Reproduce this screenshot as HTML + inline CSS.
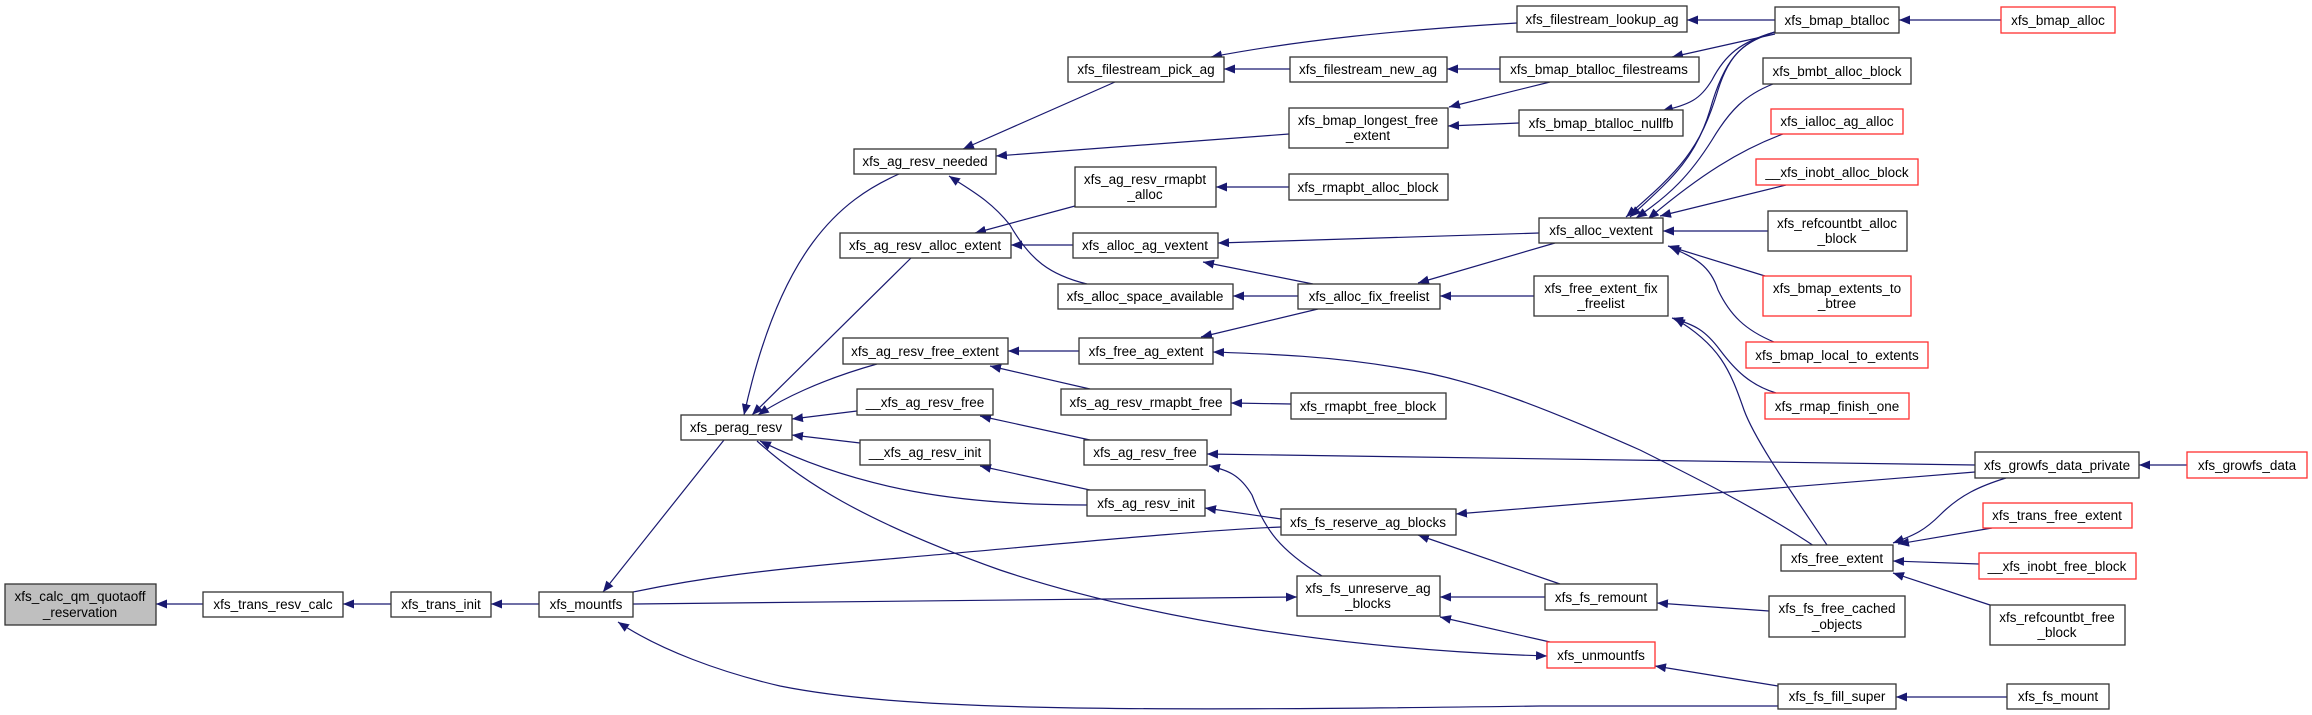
<!DOCTYPE html>
<html><head><meta charset="utf-8"><style>
html,body{margin:0;padding:0;background:#fff;}
svg{display:block;}
text{font-family:"Liberation Sans",sans-serif;font-size:13.5px;fill:#000;text-anchor:middle;}
.n{fill:#fff;stroke:#333;stroke-width:1.3;}
.r{fill:#fff;stroke:#ff3030;stroke-width:1.3;}
.g{fill:#bfbfbf;stroke:#333;stroke-width:1.3;}
path.e{fill:none;stroke:#191970;stroke-width:1.2;}
</style></head><body>
<svg width="2312" height="715" viewBox="0 0 2312 715" xmlns="http://www.w3.org/2000/svg">
<defs><marker id="a" markerUnits="userSpaceOnUse" markerWidth="12" markerHeight="9" refX="11" refY="4.5" orient="auto"><path d="M0,0 L11,4.5 L0,9 z" fill="#191970"/></marker></defs>
<g marker-end="url(#a)">
<path class="e" d="M203,604 L156,604"/>
<path class="e" d="M391,604 L343,604"/>
<path class="e" d="M539,604 L491,604"/>
<path class="e" d="M724,440 L603,592"/>
<path class="e" d="M899,174 C840,200 780,250 744,415"/>
<path class="e" d="M911,258 L752,415"/>
<path class="e" d="M877,364 C820,380 780,400 758,415"/>
<path class="e" d="M857,411 L792,419"/>
<path class="e" d="M860,443 L792,435"/>
<path class="e" d="M1087,505 C960,505 860,490 760,441"/>
<path class="e" d="M757,441 C800,480 860,520 1000,570 C1150,620 1350,650 1547,656"/>
<path class="e" d="M633,604 L1297,597"/>
<path class="e" d="M1778,706 L1540,706 C1100,712 900,710 780,686 C720,672 660,650 618,622"/>
<path class="e" d="M1115,82 L963,149"/>
<path class="e" d="M1289,134 L996,156"/>
<path class="e" d="M1087,284 C1050,275 1030,260 1010,225 C990,200 970,190 949,176"/>
<path class="e" d="M1290,69 L1224,69"/>
<path class="e" d="M1517,23 C1400,30 1300,40 1211,57"/>
<path class="e" d="M1500,69 L1447,69"/>
<path class="e" d="M1519,123 L1448,126"/>
<path class="e" d="M1550,82 L1449,107"/>
<path class="e" d="M1289,187 L1216,187"/>
<path class="e" d="M1075,206 L975,233"/>
<path class="e" d="M1073,245 L1011,245"/>
<path class="e" d="M1539,233 L1218,243"/>
<path class="e" d="M1313,284 L1203,262"/>
<path class="e" d="M1298,296 L1233,296"/>
<path class="e" d="M1555,243 L1418,283"/>
<path class="e" d="M1534,296 L1440,296"/>
<path class="e" d="M1318,309 L1201,337"/>
<path class="e" d="M1079,351 L1008,351"/>
<path class="e" d="M1090,389 L990,366"/>
<path class="e" d="M1814,546 C1760,510 1700,480 1640,450 C1560,415 1480,380 1400,368 C1330,356 1270,354 1213,352"/>
<path class="e" d="M1291,404 L1231,403"/>
<path class="e" d="M1090,440 L980,416"/>
<path class="e" d="M1975,465 L1207,454"/>
<path class="e" d="M1322,576 C1280,550 1265,530 1252,495 C1240,475 1228,470 1209,466"/>
<path class="e" d="M1090,490 L980,466"/>
<path class="e" d="M1281,519 L1205,508"/>
<path class="e" d="M1975,472 L1456,514"/>
<path class="e" d="M1560,584 L1418,535"/>
<path class="e" d="M1545,597 L1440,597"/>
<path class="e" d="M1550,642 L1440,617"/>
<path class="e" d="M1775,20 L1687,20"/>
<path class="e" d="M2001,20 L1899,20"/>
<path class="e" d="M1775,34 L1672,57"/>
<path class="e" d="M1775,32 C1740,42 1725,55 1712,80 C1700,100 1690,104 1662,111"/>
<path class="e" d="M1775,32 C1745,42 1730,52 1718,90 C1700,150 1680,170 1626,217"/>
<path class="e" d="M1775,32 C1740,42 1724,60 1710,110 C1695,160 1670,180 1630,217"/>
<path class="e" d="M1773,84 C1745,95 1730,110 1712,140 C1690,175 1670,195 1636,218"/>
<path class="e" d="M1783,134 C1740,150 1700,175 1648,219"/>
<path class="e" d="M1786,185 L1660,216"/>
<path class="e" d="M1768,231 L1663,231"/>
<path class="e" d="M1765,276 L1668,246"/>
<path class="e" d="M1774,342 C1745,330 1730,315 1718,290 C1710,265 1695,258 1670,247"/>
<path class="e" d="M1776,393 C1750,385 1735,370 1720,350 C1705,330 1695,325 1672,318"/>
<path class="e" d="M1827,545 C1790,490 1755,440 1744,410 C1730,370 1720,345 1674,318"/>
<path class="e" d="M2187,465 L2139,465"/>
<path class="e" d="M2006,478 C1980,486 1960,495 1940,515 C1925,530 1915,535 1893,543"/>
<path class="e" d="M1992,528 L1898,544"/>
<path class="e" d="M1979,564 L1893,561"/>
<path class="e" d="M1990,605 L1893,573"/>
<path class="e" d="M1769,611 L1657,603"/>
<path class="e" d="M1778,686 L1655,666"/>
<path class="e" d="M2007,697 L1896,697"/>
</g>
<path class="e" d="M633,592 C700,578 760,570 900,558 C1050,545 1200,530 1281,527"/>

<rect class="g" x="5" y="584" width="151" height="41"/><text x="80" y="601">xfs_calc_qm_quotaoff</text><text x="80" y="617">_reservation</text>
<rect class="n" x="203" y="592" width="140" height="25"/><text x="273" y="609">xfs_trans_resv_calc</text>
<rect class="n" x="391" y="592" width="100" height="25"/><text x="441" y="609">xfs_trans_init</text>
<rect class="n" x="539" y="592" width="94" height="25"/><text x="586" y="609">xfs_mountfs</text>
<rect class="n" x="681" y="415" width="111" height="25"/><text x="736" y="432">xfs_perag_resv</text>
<rect class="n" x="1068" y="57" width="156" height="25"/><text x="1146" y="74">xfs_filestream_pick_ag</text>
<rect class="n" x="1290" y="57" width="157" height="25"/><text x="1368" y="74">xfs_filestream_new_ag</text>
<rect class="n" x="1289" y="108" width="159" height="40"/><text x="1368" y="125">xfs_bmap_longest_free</text><text x="1368" y="140">_extent</text>
<rect class="n" x="854" y="149" width="142" height="25"/><text x="925" y="166">xfs_ag_resv_needed</text>
<rect class="n" x="1075" y="167" width="141" height="40"/><text x="1145" y="184">xfs_ag_resv_rmapbt</text><text x="1145" y="199">_alloc</text>
<rect class="n" x="1289" y="174" width="159" height="26"/><text x="1368" y="192">xfs_rmapbt_alloc_block</text>
<rect class="n" x="840" y="233" width="171" height="25"/><text x="925" y="250">xfs_ag_resv_alloc_extent</text>
<rect class="n" x="1073" y="233" width="145" height="25"/><text x="1145" y="250">xfs_alloc_ag_vextent</text>
<rect class="n" x="1058" y="284" width="175" height="25"/><text x="1145" y="301">xfs_alloc_space_available</text>
<rect class="n" x="1298" y="284" width="142" height="25"/><text x="1369" y="301">xfs_alloc_fix_freelist</text>
<rect class="n" x="843" y="338" width="165" height="26"/><text x="925" y="356">xfs_ag_resv_free_extent</text>
<rect class="n" x="1079" y="338" width="134" height="26"/><text x="1146" y="356">xfs_free_ag_extent</text>
<rect class="n" x="857" y="389" width="136" height="26"/><text x="925" y="407">__xfs_ag_resv_free</text>
<rect class="n" x="1061" y="389" width="170" height="26"/><text x="1146" y="407">xfs_ag_resv_rmapbt_free</text>
<rect class="n" x="1291" y="393" width="155" height="26"/><text x="1368" y="411">xfs_rmapbt_free_block</text>
<rect class="n" x="860" y="440" width="130" height="25"/><text x="925" y="457">__xfs_ag_resv_init</text>
<rect class="n" x="1084" y="440" width="123" height="25"/><text x="1145" y="457">xfs_ag_resv_free</text>
<rect class="n" x="1087" y="490" width="118" height="26"/><text x="1146" y="508">xfs_ag_resv_init</text>
<rect class="n" x="1281" y="509" width="175" height="26"/><text x="1368" y="527">xfs_fs_reserve_ag_blocks</text>
<rect class="n" x="1297" y="576" width="143" height="40"/><text x="1368" y="593">xfs_fs_unreserve_ag</text><text x="1368" y="608">_blocks</text>
<rect class="n" x="1517" y="6" width="170" height="26"/><text x="1602" y="24">xfs_filestream_lookup_ag</text>
<rect class="n" x="1500" y="57" width="199" height="25"/><text x="1599" y="74">xfs_bmap_btalloc_filestreams</text>
<rect class="n" x="1519" y="110" width="164" height="26"/><text x="1601" y="128">xfs_bmap_btalloc_nullfb</text>
<rect class="n" x="1775" y="7" width="124" height="26"/><text x="1837" y="25">xfs_bmap_btalloc</text>
<rect class="r" x="2001" y="7" width="114" height="26"/><text x="2058" y="25">xfs_bmap_alloc</text>
<rect class="n" x="1763" y="58" width="148" height="26"/><text x="1837" y="76">xfs_bmbt_alloc_block</text>
<rect class="r" x="1771" y="109" width="132" height="25"/><text x="1837" y="126">xfs_ialloc_ag_alloc</text>
<rect class="r" x="1756" y="159" width="162" height="26"/><text x="1837" y="177">__xfs_inobt_alloc_block</text>
<rect class="n" x="1768" y="211" width="139" height="40"/><text x="1837" y="228">xfs_refcountbt_alloc</text><text x="1837" y="243">_block</text>
<rect class="n" x="1539" y="218" width="124" height="25"/><text x="1601" y="235">xfs_alloc_vextent</text>
<rect class="r" x="1763" y="276" width="148" height="40"/><text x="1837" y="293">xfs_bmap_extents_to</text><text x="1837" y="308">_btree</text>
<rect class="n" x="1534" y="276" width="134" height="40"/><text x="1601" y="293">xfs_free_extent_fix</text><text x="1601" y="308">_freelist</text>
<rect class="r" x="1746" y="342" width="182" height="26"/><text x="1837" y="360">xfs_bmap_local_to_extents</text>
<rect class="r" x="1765" y="393" width="144" height="26"/><text x="1837" y="411">xfs_rmap_finish_one</text>
<rect class="n" x="1975" y="452" width="164" height="26"/><text x="2057" y="470">xfs_growfs_data_private</text>
<rect class="r" x="2187" y="452" width="120" height="26"/><text x="2247" y="470">xfs_growfs_data</text>
<rect class="r" x="1983" y="503" width="149" height="25"/><text x="2057" y="520">xfs_trans_free_extent</text>
<rect class="n" x="1781" y="545" width="112" height="26"/><text x="1837" y="563">xfs_free_extent</text>
<rect class="r" x="1979" y="553" width="157" height="26"/><text x="2057" y="571">__xfs_inobt_free_block</text>
<rect class="n" x="1545" y="584" width="112" height="26"/><text x="1601" y="602">xfs_fs_remount</text>
<rect class="n" x="1769" y="596" width="136" height="41"/><text x="1837" y="613">xfs_fs_free_cached</text><text x="1837" y="629">_objects</text>
<rect class="n" x="1990" y="605" width="135" height="40"/><text x="2057" y="622">xfs_refcountbt_free</text><text x="2057" y="637">_block</text>
<rect class="r" x="1547" y="642" width="108" height="26"/><text x="1601" y="660">xfs_unmountfs</text>
<rect class="n" x="1778" y="684" width="118" height="25"/><text x="1837" y="701">xfs_fs_fill_super</text>
<rect class="n" x="2007" y="684" width="102" height="25"/><text x="2058" y="701">xfs_fs_mount</text>
</svg>
</body></html>
